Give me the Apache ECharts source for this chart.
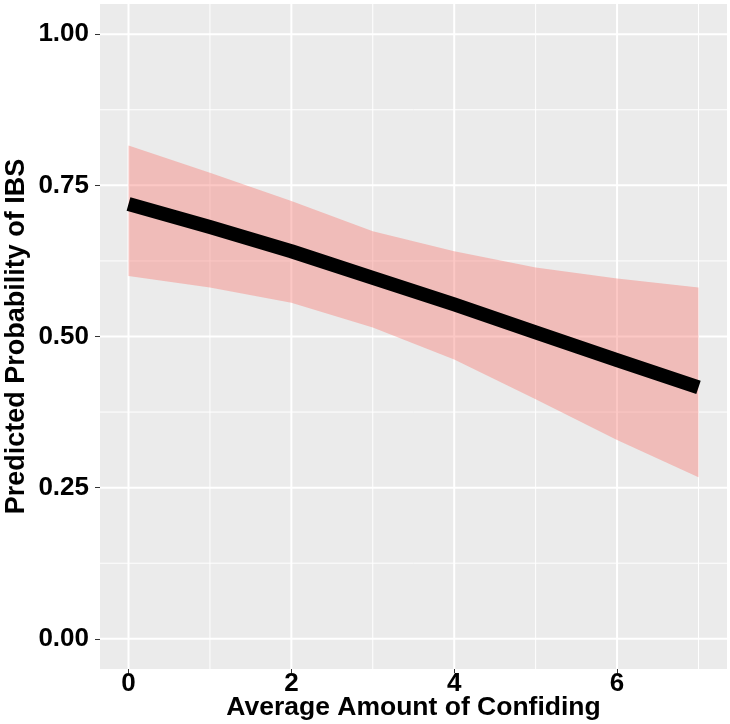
<!DOCTYPE html>
<html>
<head>
<meta charset="utf-8">
<script src="https://cdn.jsdelivr.net/npm/echarts@6/dist/echarts.min.js"></script>
<style>
html,body{margin:0;padding:0;background:#fff;}
#chart{width:730px;height:724px;}
</style>
</head>
<body>
<div id="chart"></div>
<script>
// Data
var confiding = [0, 1, 2, 3, 4, 5, 6, 7];
var predicted = [0.719, 0.681, 0.641, 0.597, 0.553, 0.507, 0.461, 0.416];
var upperCI   = [0.816, 0.771, 0.724, 0.674, 0.641, 0.614, 0.596, 0.581];
var lowerCI   = [0.600, 0.581, 0.556, 0.515, 0.462, 0.396, 0.329, 0.267];
var xTicks = [0, 2, 4, 6];
var xMinor = [1, 3, 5, 7];
var yTicks = [0, 0.25, 0.5, 0.75, 1];
var yMinor = [0.125, 0.375, 0.625, 0.875];
var xTitle = 'Average Amount of Confiding';
var yTitle = 'Predicted Probability of IBS';

var X_MIN = -0.35, X_MAX = 7.35, Y_MIN = -0.05, Y_MAX = 1.05;
var FONT = '"Liberation Sans", Arial, sans-serif';

var chart = echarts.init(document.getElementById('chart'), null, {renderer: 'canvas'});

var lineData = confiding.map(function (x, i) { return [x, predicted[i]]; });

var gridItems = [];
xTicks.forEach(function (v) { gridItems.push({value: [v, 0], dir: 'x', w: 2}); });
xMinor.forEach(function (v) { gridItems.push({value: [v, 0], dir: 'x', w: 1}); });
yTicks.forEach(function (v) { gridItems.push({value: [0, v], dir: 'y', w: 2}); });
yMinor.forEach(function (v) { gridItems.push({value: [0, v], dir: 'y', w: 1}); });

var option = {
  animation: false,
  backgroundColor: '#ffffff',
  grid: {
    left: 100, right: 3, top: 4, bottom: 55,
    show: true, backgroundColor: '#EBEBEB', borderWidth: 0,
    containLabel: false, outerBoundsMode: 'none'
  },
  xAxis: {
    type: 'value', min: X_MIN, max: X_MAX,
    minInterval: 2, maxInterval: 2,
    name: xTitle, nameLocation: 'middle', nameGap: 25, nameMoveOverlap: false,
    nameTextStyle: {fontFamily: FONT, fontWeight: 'bold', fontSize: 26.5, color: '#000'},
    axisLine: {show: false, onZero: false},
    axisTick: {show: true, length: 4, lineStyle: {color: '#333', width: 1}, customValues: xTicks},
    axisLabel: {
      show: true, margin: 2, fontFamily: FONT, fontWeight: 'bold', fontSize: 26, color: '#000',
      customValues: xTicks,
      formatter: function (v) { return xTicks.indexOf(v) >= 0 ? String(v) : ''; }
    },
    splitLine: {show: false}
  },
  yAxis: {
    type: 'value', min: Y_MIN, max: Y_MAX,
    minInterval: 0.25, maxInterval: 0.25,
    name: yTitle, nameLocation: 'middle', nameGap: 70, nameRotate: 90, nameMoveOverlap: false,
    nameTextStyle: {fontFamily: FONT, fontWeight: 'bold', fontSize: 27, color: '#000'},
    axisLine: {show: false, onZero: false},
    axisTick: {show: true, length: 5, lineStyle: {color: '#333', width: 1}, customValues: yTicks},
    axisLabel: {
      show: true, margin: 11, fontFamily: FONT, fontWeight: 'bold', fontSize: 26, color: '#000',
      customValues: yTicks,
      formatter: function (v) { return yTicks.indexOf(v) >= 0 ? v.toFixed(2) : ''; }
    },
    splitLine: {show: false}
  },
  series: [
    {
      type: 'custom', name: 'grid', z: 1, silent: true,
      data: gridItems,
      renderItem: function (params, api) {
        var cs = params.coordSys;
        var item = gridItems[params.dataIndex];
        var p = api.coord(item.value);
        var shape;
        if (item.dir === 'x') {
          shape = {x1: p[0], y1: cs.y, x2: p[0], y2: cs.y + cs.height};
        } else {
          shape = {x1: cs.x, y1: p[1], x2: cs.x + cs.width, y2: p[1]};
        }
        return {type: 'line', shape: shape, style: {stroke: '#ffffff', lineWidth: item.w}};
      }
    },
    {
      type: 'custom', name: 'ribbon', z: 2, silent: true,
      data: [[0, 0]],
      renderItem: function (params, api) {
        var pts = [];
        for (var i = 0; i < confiding.length; i++) pts.push(api.coord([confiding[i], upperCI[i]]));
        for (var j = confiding.length - 1; j >= 0; j--) pts.push(api.coord([confiding[j], lowerCI[j]]));
        return {type: 'polygon', shape: {points: pts}, style: {fill: 'rgba(248,118,109,0.4)'}};
      }
    },
    {
      type: 'line', name: 'fit', z: 3, silent: true,
      data: lineData, showSymbol: false, smooth: false,
      lineStyle: {color: '#000000', width: 14, cap: 'butt', join: 'round'}
    }
  ]
};
chart.setOption(option);
</script>
</body>
</html>
